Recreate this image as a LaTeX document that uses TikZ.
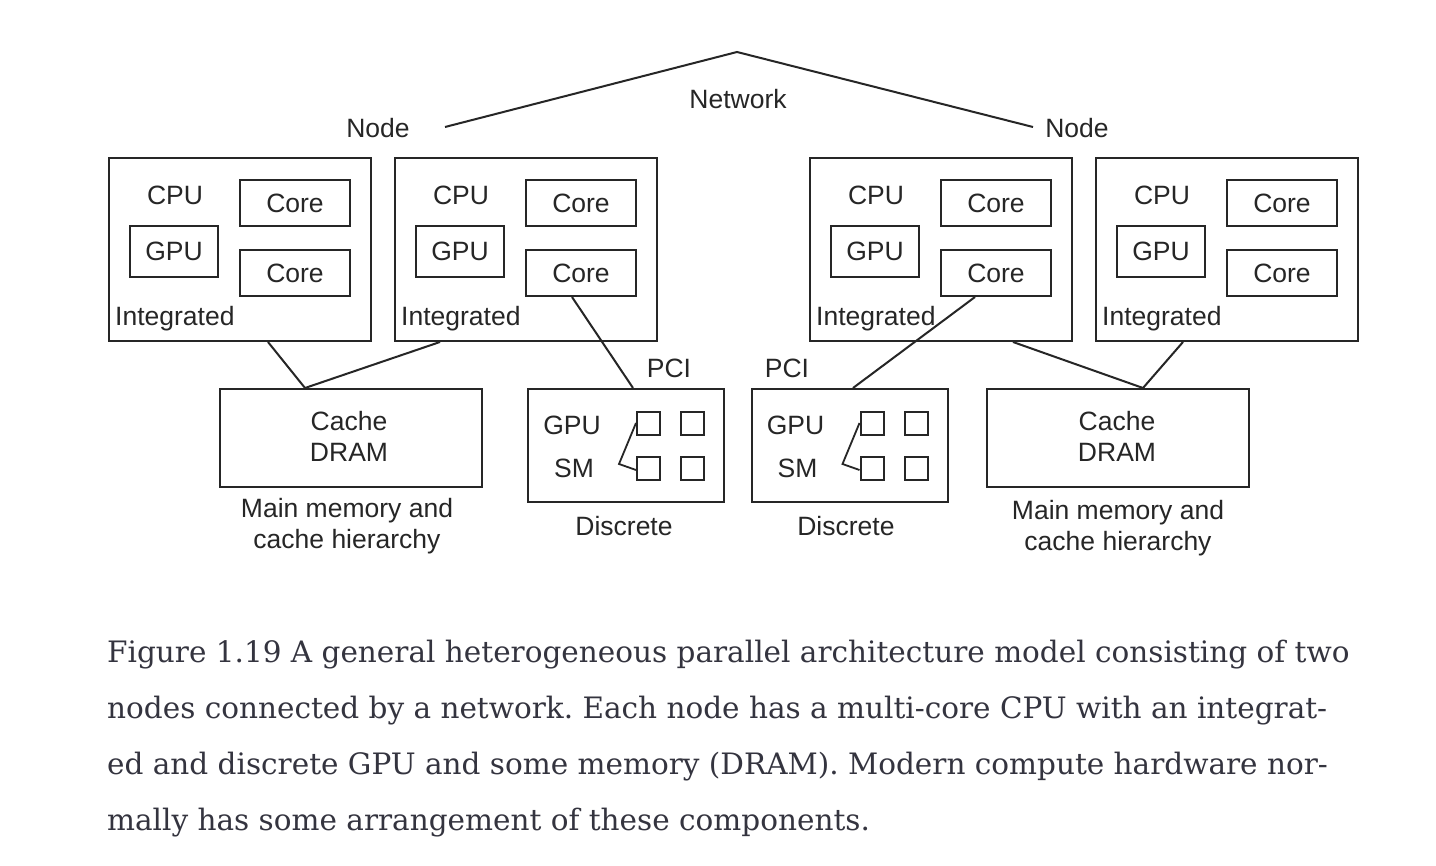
\documentclass[tikz,border=0pt]{standalone}
\usepackage{fontspec}
\setmainfont{Liberation Sans}
\newfontfamily\capfont{DejaVu Serif}
\usetikzlibrary{calc}
\definecolor{ink}{HTML}{262626}
\definecolor{capink}{HTML}{34343F}
\begin{document}
\frenchspacing
\begin{tikzpicture}[x=1pt,y=-1pt,
  lbl/.style={inner sep=0pt,text=ink,font=\fontsize{26.5}{31}\selectfont},
  box/.style={draw=ink,line width=2pt,inner sep=0pt},
  conn/.style={draw=ink,line width=2pt},
  sq/.style={box,minimum width=23pt,minimum height=23pt},
  capline/.style={inner sep=0pt,anchor=base west,text=capink,font=\capfont\fontsize{29.5}{34}\selectfont}
]
\useasboundingbox (0,0) rectangle (1436,866);
\fill[white] (0,0) rectangle (1436,866);

% Network
\coordinate (peak) at (737,52);
\coordinate (nl) at (445,127);
\coordinate (nr) at (1033,127);
\draw[conn,line join=miter] (nl) -- (peak) -- (nr);
\node[lbl] (net) at (738,99) {Network};
\node[lbl] (nodeL) at (378,128) {Node};
\node[lbl] (nodeR) at (1077,128) {Node};

% Node boxes
\foreach \i/\dx in {1/0,2/286,3/701,4/987}{
  \node[box,minimum width=262pt,minimum height=183pt] (n\i) at (240+\dx,249.5) {};
  \node[lbl] (cpu\i) at (175+\dx,195) {CPU};
  \node[box,lbl,draw=ink,line width=2pt,minimum width=110pt,minimum height=46pt] (ca\i) at (295+\dx,203.5) {Core};
  \node[box,lbl,draw=ink,line width=2pt,minimum width=110pt,minimum height=46pt] (cb\i) at (295+\dx,273) {Core};
  \node[box,lbl,draw=ink,line width=2pt,minimum width=88pt,minimum height=51pt] (g\i) at (174+\dx,251.5) {GPU};
  \node[lbl,anchor=west] (int\i) at (115+\dx,319) {Integrated};
}

% Memory boxes
\node[box,minimum width=262pt,minimum height=98pt] (c1) at (351,438) {};
\node[lbl,align=center] (c1t) at (349,436) {Cache\\DRAM};
\node[lbl,align=center] (c1l) at (347,526) {Main memory and\\cache hierarchy};
\node[box,minimum width=262pt,minimum height=98pt] (c2) at (1118,438) {};
\node[lbl,align=center] (c2t) at (1117,436) {Cache\\DRAM};
\node[lbl,align=center] (c2l) at (1118,528) {Main memory and\\cache hierarchy};

% Discrete GPUs
\foreach \i/\dx in {1/0,2/223.5}{
  \node[box,minimum width=196pt,minimum height=113pt] (d\i) at (626+\dx,445.5) {};
  \node[lbl] (dg\i) at (572+\dx,425) {GPU};
  \node[lbl] (ds\i) at (574+\dx,468) {SM};
  \node[sq] (s\i a) at (648.5+\dx,424) {};
  \node[sq] (s\i b) at (692.5+\dx,424) {};
  \node[sq] (s\i c) at (648.5+\dx,468.5) {};
  \node[sq] (s\i d) at (692.5+\dx,468.5) {};
  \coordinate (br\i) at (619+\dx,464);
  \draw[conn,line width=1.8pt] ([yshift=1pt]s\i a.west) -- (br\i) -- ([yshift=-1.5pt]s\i c.west);
  \node[lbl] (dl\i) at (624+\dx*0.993,526) {Discrete};
}
\node[lbl] (pci1) at (669,368) {PCI};
\node[lbl] (pci2) at (787,368) {PCI};

% Connectors
\draw[conn] ([xshift=28pt]n1.south) -- ([xshift=-46pt]c1.north);
\draw[conn] ([xshift=-86pt]n2.south) -- ([xshift=-46pt]c1.north);
\draw[conn] ([xshift=-9pt]cb2.south) -- ([xshift=7pt]d1.north);
\draw[conn] ([xshift=-21pt]cb3.south) -- ([xshift=3.5pt]d2.north);
\draw[conn] ([xshift=72pt]n3.south) -- ([xshift=25pt]c2.north);
\draw[conn] ([xshift=-44pt]n4.south) -- ([xshift=25pt]c2.north);

% Caption
\node[capline] (cap1) at (107,662) {Figure 1.19 A general heterogeneous parallel architecture model consisting of two};
\node[capline] (cap2) at (107,718) {nodes connected by a network. Each node has a multi-core CPU with an integrat-};
\node[capline] (cap3) at (107,774) {ed and discrete GPU and some memory (DRAM). Modern compute hardware nor-};
\node[capline] (cap4) at (107,830) {mally has some arrangement of these components.};
\end{tikzpicture}
\end{document}
